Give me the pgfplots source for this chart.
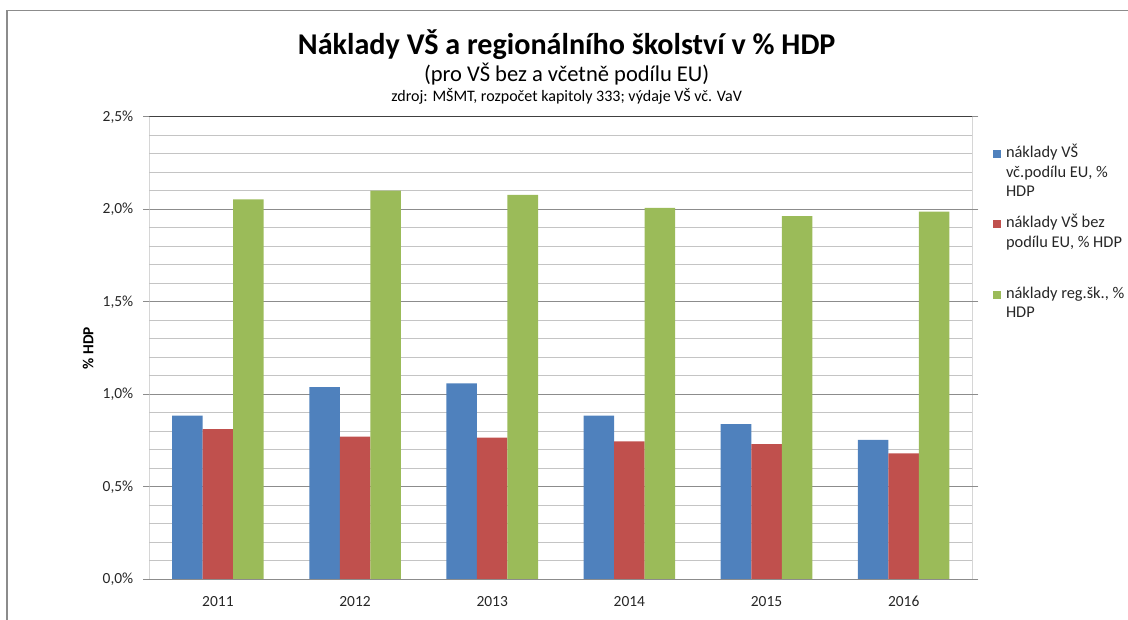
\documentclass[border=0pt]{standalone}
\usepackage{pgfplots}
\pgfplotsset{compat=1.18}
\usepackage{fontspec}
\setmainfont{Carlito}
\definecolor{cBlue}{HTML}{4F81BD}
\definecolor{cRed}{HTML}{C0504D}
\definecolor{cGreen}{HTML}{9BBB59}
\definecolor{gMaj}{HTML}{8C8C8C}
\definecolor{gMin}{HTML}{C4C4C4}
\definecolor{gAx}{HTML}{C0C0C0}
\begin{document}
\begin{tikzpicture}
\useasboundingbox (0,0) rectangle (846pt,464.25pt);
\draw[color=gMaj, line width=0.9pt] (5.25pt,-2pt) -- (5.25pt,456.4pt) -- (850pt,456.4pt);
\node[anchor=base, font=\fontsize{22.6}{26}\selectfont\bfseries] at (425pt,423.5pt) {Náklady VŠ a regionálního školství v \% HDP};
\node[anchor=base, font=\fontsize{16.9}{19}\selectfont] at (425pt,402.75pt) {(pro VŠ bez a včetně podílu EU)};
\node[anchor=base, font=\fontsize{12}{14}\selectfont] at (425pt,387.75pt) {zdroj: MŠMT, rozpočet kapitoly 333; výdaje VŠ vč. VaV};
\begin{axis}[
  at={(112pt,29.8pt)}, anchor=south west,
  scale only axis, width=617.2pt, height=346.9pt,
  ybar=0pt, bar width=22.9pt,
  xmin=-0.5, xmax=5.5, ymin=0, ymax=2.5,
  xtick={0,1,2,3,4,5},
  xticklabels={2011,2012,2013,2014,2015,2016},
  x tick style={draw=none},
  extra x ticks={-0.5,0.5,1.5,2.5,3.5,4.5,5.5},
  extra x tick labels={},
  extra x tick style={grid=none, tick style={draw=gMaj, line width=0.75pt}, major tick length=4.3pt, tick align=outside},
  ytick={0,0.5,1,1.5,2,2.5},
  minor y tick num=4,
  ymajorgrids, yminorgrids,
  major grid style={draw=gMaj, line width=0.75pt},
  minor grid style={draw=gMin, line width=0.75pt},
  y tick style={draw=gMaj, line width=0.75pt},
  major tick length=4.5pt, tick align=outside,
  minor tick length=0pt,
  axis line style={draw=none},
  /pgf/number format/assume math mode=true,
  yticklabel={\pgfmathprintnumber[fixed,fixed zerofill,precision=1,use comma]{\tick}\%},
  ticklabel style={font=\fontsize{11.6}{13}\selectfont, color=black!85},
  yticklabel style={xshift=-4pt},
  xticklabel style={yshift=-4.5pt},
  ylabel={\% HDP},
  every axis y label/.style={at={(axis description cs:-0.0745,0.5)}, rotate=90, anchor=center, font=\fontsize{11.5}{13}\selectfont\bfseries},
  legend style={at={(axis description cs:1,1)}, anchor=north west, xshift=15pt, yshift=-20.5pt, draw=none, fill=none, inner sep=0pt, column sep=4.1pt, row sep=42.4pt, nodes={inner sep=0pt, text height=10pt, text depth=0pt}, cells={anchor=base west}, font=\fontsize{12.3}{14.6}\selectfont, text=black!85},
  legend image code/.code={\fill[#1] (0pt,-0.3pt) rectangle (6pt,5.7pt);},
]
\addplot[fill=cBlue, draw=none] coordinates {(0,0.884) (1,1.039) (2,1.059) (3,0.885) (4,0.838) (5,0.753)};
\addplot[fill=cRed, draw=none] coordinates {(0,0.812) (1,0.771) (2,0.765) (3,0.746) (4,0.730) (5,0.681)};
\addplot[fill=cGreen, draw=none] coordinates {(0,2.054) (1,2.100) (2,2.077) (3,2.007) (4,1.963) (5,1.987)};
\addlegendentry{\parbox[t]{110pt}{náklady VŠ\\vč.podílu EU, \%\\HDP}}
\addlegendentry{\parbox[t]{110pt}{náklady VŠ bez\\podílu EU, \% HDP}}
\addlegendentry{\parbox[t]{110pt}{náklady reg.šk., \%\\HDP}}
\draw[color=gAx, line width=1.4pt] (rel axis cs:0,0) -- (rel axis cs:0,1);
\draw[color=gMaj, line width=0.9pt] (rel axis cs:0,0) -- (rel axis cs:1,0);
\draw[color=gMaj, line width=1.1pt] (rel axis cs:1,0) -- (rel axis cs:1,1);
\draw[color=black!75, line width=0.9pt] (rel axis cs:0,1) -- (rel axis cs:1,1);
\end{axis}
\end{tikzpicture}
\end{document}
